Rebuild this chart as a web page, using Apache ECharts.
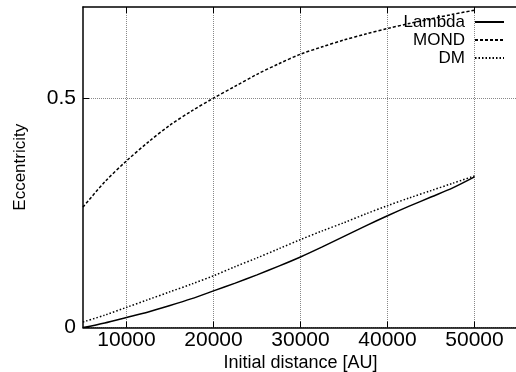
<!DOCTYPE html>
<html>
<head>
<meta charset="utf-8">
<script src="https://cdn.jsdelivr.net/npm/echarts@6/dist/echarts.min.js"></script>
<style>
  html, body { margin: 0; padding: 0; background: #fff; }
  #chart { width: 516px; height: 372px; }
</style>
</head>
<body>
<div id="chart"></div>
<script>
// Initial distance of the orbit, in AU
const distance = [5000, 7500, 10000, 12500, 15000, 17500, 20000, 22500, 25000, 27500,
                  30000, 32500, 35000, 37500, 40000, 42500, 45000, 47500, 50000];

// Final eccentricity for each gravity model
const lambdaEcc = [0.000, 0.010, 0.022, 0.034, 0.048, 0.063, 0.080, 0.097, 0.115, 0.134,
                   0.154, 0.176, 0.199, 0.222, 0.244, 0.265, 0.285, 0.305, 0.329];
const mondEcc   = [0.263, 0.318, 0.364, 0.405, 0.442, 0.473, 0.501, 0.527, 0.553, 0.576,
                   0.597, 0.613, 0.628, 0.641, 0.653, 0.664, 0.674, 0.684, 0.693];
const dmEcc     = [0.012, 0.027, 0.044, 0.061, 0.078, 0.095, 0.113, 0.133, 0.152, 0.172,
                   0.192, 0.211, 0.229, 0.248, 0.266, 0.283, 0.299, 0.315, 0.331];

// Tick positions
const xTicks = [10000, 20000, 30000, 40000, 50000];
const yTicks = [0, 0.5];

const pairs = (vals) => distance.map((d, i) => [d, vals[i]]);
const FONT = '"Liberation Sans", Arial, Helvetica, sans-serif';

const chart = echarts.init(document.getElementById('chart'), null, { renderer: 'canvas' });

const lineBase = {
  type: 'line',
  showSymbol: false,
  symbol: 'none',
  smooth: 0.3,
  animation: false,
  silent: true,
  color: '#000'
};

chart.setOption({
  animation: false,
  backgroundColor: '#fff',
  textStyle: { fontFamily: FONT },
  grid: {
    left: 83, top: 7, width: 435, height: 320.5,
    containLabel: false,
    outerBoundsMode: 'none'
  },
  legend: {
    data: ['Lambda', 'MOND', 'DM'],
    orient: 'vertical',
    right: 11,
    top: 13,
    align: 'right',
    itemWidth: 29,
    itemHeight: 14,
    itemGap: 0,
    padding: 0,
    selectedMode: false,
    itemStyle: { color: 'transparent', borderWidth: 0, opacity: 0 },
    textStyle: { fontFamily: FONT, fontSize: 17, lineHeight: 18, color: '#000', padding: [0, 5, 0, 0] }
  },
  xAxis: [{
    type: 'value',
    position: 'bottom',
    min: 5000,
    max: 55000,
    name: 'Initial distance [AU]',
    nameLocation: 'middle',
    nameGap: 27,
    nameMoveOverlap: false,
    nameTextStyle: { fontFamily: FONT, fontSize: 18, color: '#000' },
    axisLine: { show: true, onZero: false, lineStyle: { color: '#000', width: 1.5 } },
    axisTick: { show: true, inside: true, length: 6, customValues: xTicks, lineStyle: { color: '#000' } },
    axisLabel: {
      customValues: xTicks, fontFamily: FONT, fontSize: 21, color: '#000', margin: 2,
      formatter: (v) => String(v)
    },
    splitLine: { show: true, lineStyle: { color: '#888', width: 1, type: [1, 1] } }
  }, {
    type: 'value',
    position: 'top',
    min: 5000,
    max: 55000,
    axisLine: { show: true, onZero: false, lineStyle: { color: '#000', width: 1.5 } },
    axisTick: { show: true, inside: true, length: 6, customValues: xTicks, lineStyle: { color: '#000' } },
    axisLabel: { show: false },
    splitLine: { show: false }
  }],
  yAxis: [{
    type: 'value',
    min: 0,
    max: 0.7,
    name: 'Eccentricity',
    nameLocation: 'middle',
    nameRotate: 90,
    nameGap: 54,
    nameMoveOverlap: false,
    nameTextStyle: { fontFamily: FONT, fontSize: 17, color: '#000' },
    axisLine: { show: true, onZero: false, lineStyle: { color: '#000', width: 1.5 } },
    axisTick: { show: true, inside: true, length: 6, customValues: yTicks, lineStyle: { color: '#000' } },
    axisLabel: {
      customValues: yTicks,
      fontFamily: FONT, fontSize: 21, color: '#000', margin: 7,
      formatter: (v) => (v === 0 ? '0' : String(v))
    },
    splitLine: { show: true, lineStyle: { color: '#888', width: 1, type: [1, 1] } }
  }],
  series: [
    Object.assign({}, lineBase, {
      name: 'Lambda',
      data: pairs(lambdaEcc),
      lineStyle: { color: '#000', width: 1.5, type: 'solid' }
    }),
    Object.assign({}, lineBase, {
      name: 'MOND',
      data: pairs(mondEcc),
      lineStyle: { color: '#000', width: 1.5, type: [3, 2] }
    }),
    Object.assign({}, lineBase, {
      name: 'DM',
      data: pairs(dmEcc),
      lineStyle: { color: '#000', width: 1.5, type: [1.5, 2] }
    })
  ]
});
</script>
</body>
</html>
